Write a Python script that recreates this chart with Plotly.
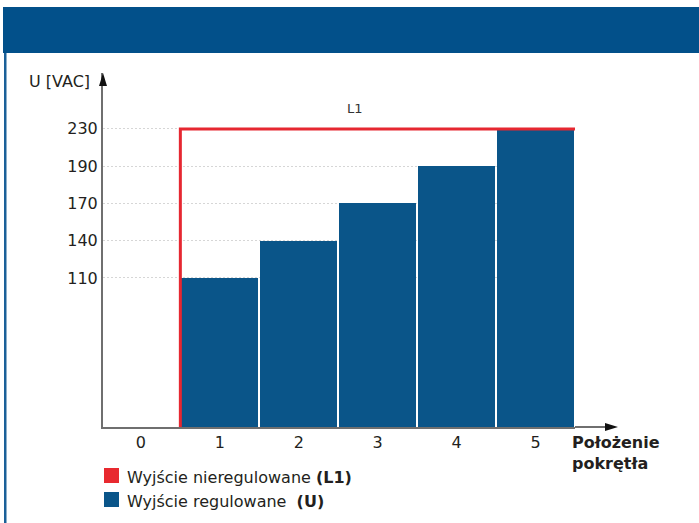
import plotly.graph_objects as go

# ---- data ----
positions = [0, 1, 2, 3, 4, 5]
position_labels = ["0", "1", "2", "3", "4", "5"]
u_regulated = [0, 110, 140, 170, 190, 230]
l1_unregulated = [0, 230, 230, 230, 230, 230]
voltage_ticks = [110, 140, 170, 190, 230]
first_tick_level = 4  # schematic (ordinal) voltage scale: first tick is 4 steps above 0


def level(v):
    return 0 if v == 0 else voltage_ticks.index(v) + first_tick_level


FONT = "DejaVu Sans"
TXT = "#231f20"
BLUE = "#0a5589"
RED = "#e62731"
AXIS = "#6f6f6f"

fig = go.Figure()

fig.add_trace(go.Bar(
    x=positions, y=[level(v) for v in u_regulated], width=0.98,
    marker=dict(color=BLUE, line=dict(width=0)), showlegend=False,
    hovertext=[str(v) for v in u_regulated], name="U"))

fig.add_trace(go.Scatter(
    x=[p + 0.5 for p in positions], y=[level(v) for v in l1_unregulated],
    mode="lines", line=dict(color=RED, width=3, shape="vh"),
    showlegend=False, name="L1"))

fig.update_layout(
    width=699, height=523,
    margin=dict(l=103, r=124, t=73, b=96, pad=0),
    paper_bgcolor="white", plot_bgcolor="white",
    font=dict(family=FONT, size=16, color=TXT),
    bargap=0,
    xaxis=dict(range=[-0.48, 5.5], tickvals=positions, ticktext=position_labels,
               showgrid=False, zeroline=False, showline=True, linecolor=AXIS,
               linewidth=2, ticks="", tickfont=dict(size=16, color=TXT)),
    yaxis=dict(range=[0, 9.5], tickvals=[level(v) for v in voltage_ticks],
               ticktext=[str(v) for v in voltage_ticks],
               showgrid=True, gridcolor="#d6d6d6", gridwidth=1, griddash="2px,2px",
               zeroline=False, showline=True, linecolor=AXIS, linewidth=2,
               ticks="", tickfont=dict(size=16, color=TXT)),
)

shapes = []
# header band
shapes.append(dict(type="rect", xref="paper", yref="paper", xsizemode="pixel", ysizemode="pixel",
                   xanchor=0, yanchor=1, x0=-100, x1=596, y0=20, y1=66,
                   fillcolor="#02508a", line=dict(width=0), layer="below"))
# left border line
shapes.append(dict(type="rect", xref="paper", yref="paper", xsizemode="pixel", ysizemode="pixel",
                   xanchor=0, yanchor=1, x0=-99, x1=-96.5, y0=-452, y1=20,
                   fillcolor="#1b6098", line=dict(width=0), layer="below"))
# y axis arrow
shapes.append(dict(type="path", xref="paper", yref="paper", xsizemode="pixel", ysizemode="pixel",
                   xanchor=0, yanchor=1, path="M-4,-13 L4,-13 L0,0 Z",
                   fillcolor="#111111", line=dict(width=0)))
# x axis extension + arrow
shapes.append(dict(type="line", xref="paper", yref="paper", xsizemode="pixel",
                   xanchor=1, x0=0, x1=32, y0=0, y1=0, line=dict(color=AXIS, width=2)))
shapes.append(dict(type="path", xref="paper", yref="paper", xsizemode="pixel", ysizemode="pixel",
                   xanchor=1, yanchor=0, path="M30,4 L43,0 L30,-4 Z",
                   fillcolor="#111111", line=dict(width=0)))
# legend squares
shapes.append(dict(type="rect", xref="paper", yref="paper", xsizemode="pixel", ysizemode="pixel",
                   xanchor=0, yanchor=0, x0=1, x1=16, y0=-41, y1=-56,
                   fillcolor="#e8292f", line=dict(width=0)))
shapes.append(dict(type="rect", xref="paper", yref="paper", xsizemode="pixel", ysizemode="pixel",
                   xanchor=0, yanchor=0, x0=1, x1=16, y0=-65, y1=-80,
                   fillcolor=BLUE, line=dict(width=0)))
fig.update_layout(shapes=shapes)

ann = [
    dict(text="U [VAC]", xref="paper", yref="paper", x=0, y=1, xanchor="right", yanchor="middle",
         xshift=-11, yshift=-8, showarrow=False, font=dict(size=16, color=TXT)),
    dict(text="L1", xref="x", yref="y", x=3, y=level(230), xanchor="center", yanchor="middle",
         xshift=-23, yshift=20, showarrow=False, font=dict(size=13, color="#333333")),
    dict(text="<b>Położenie</b><br><b>pokrętła</b>", xref="paper", yref="paper", x=1, y=0,
         xanchor="left", yanchor="top", align="left", xshift=-5, yshift=-4,
         showarrow=False, font=dict(size=16, color=TXT)),
    dict(text="Wyjście nieregulowane <b>(L1)</b>", xref="paper", yref="paper", x=0, y=0,
         xanchor="left", yanchor="middle", xshift=22, yshift=-50, showarrow=False,
         font=dict(size=16, color=TXT)),
    dict(text="Wyjście regulowane\u00a0\u00a0<b>(U)</b>", xref="paper", yref="paper", x=0, y=0,
         xanchor="left", yanchor="middle", xshift=22, yshift=-74, showarrow=False,
         font=dict(size=16, color=TXT)),
]
fig.update_layout(annotations=ann)

fig.write_html("out.html", config={"displayModeBar": False},
               post_script="document.body.style.margin='0';")
